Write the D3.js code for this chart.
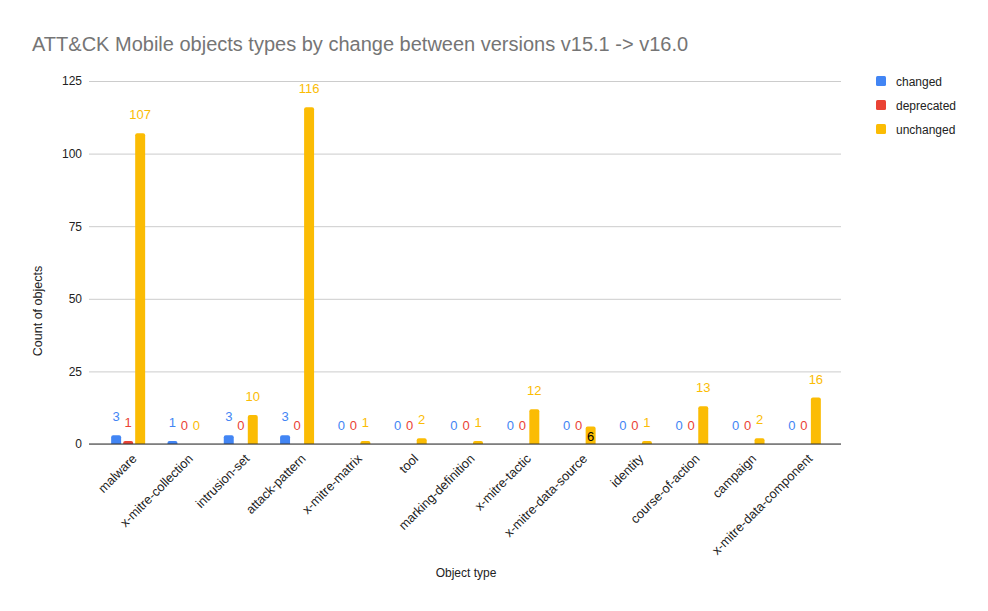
<!DOCTYPE html>
<html><head><meta charset="utf-8">
<script src="https://cdn.jsdelivr.net/npm/d3@7"></script>
<style>body{margin:0;background:#fff;}svg{display:block;font-family:"Liberation Sans",Arial,sans-serif;}</style>
</head><body><svg id="c" width="988" height="611"></svg>
<script>
const categories = ["malware","x-mitre-collection","intrusion-set","attack-pattern","x-mitre-matrix","tool","marking-definition","x-mitre-tactic","x-mitre-data-source","identity","course-of-action","campaign","x-mitre-data-component"];
const seriesNames = ["changed","deprecated","unchanged"];
const changed =    [3,1,3,3,0,0,0,0,0,0,0,0,0];
const deprecated = [1,0,0,0,0,0,0,0,0,0,0,0,0];
const unchanged =  [107,0,10,116,1,2,1,12,6,1,13,2,16];
const colors = ["#4285F4","#EA4335","#FBBC04"];
const yTicks = [0,25,50,75,100,125];
const insideLabels = ["x-mitre-data-source|unchanged"];
const title = "ATT&CK Mobile objects types by change between versions v15.1 -> v16.0";

const seriesVals = [changed, deprecated, unchanged];
const svg = d3.select("#c");
const plotL = 89, plotR = 841, plotT = 81, plotB = 444;

const x = d3.scaleBand().domain(categories).range([100, 832]);
const xs = d3.scaleBand().domain(seriesNames).range([0, 34]).paddingInner(0.17);
const y = d3.scaleLinear().domain([0,125]).range([plotB, plotT]);
const color = d3.scaleOrdinal().domain(seriesNames).range(colors);

// title
svg.append("text").attr("x", 32).attr("y", 51).attr("fill", "#757575")
  .style("font-size", "20px").text(title);

// gridlines
const yAxis = d3.axisLeft(y).tickValues(yTicks).tickSize(-(plotR-plotL)).tickPadding(7);
const ga = svg.append("g").attr("transform", `translate(${plotL},0)`).call(yAxis);
ga.select(".domain").remove();
ga.selectAll(".tick line").attr("stroke", "#cccccc");
ga.selectAll(".tick text").attr("fill", "#222").style("font-size", "12px").attr("dx", "0");

// bars
const data = [];
categories.forEach((c, ci) => seriesNames.forEach((s, si) => data.push({c, s, v: seriesVals[si][ci]})));
const bx = d => x(d.c) + x.bandwidth()/2 - 17 + xs(d.s);
function barPath(d){
  const x0 = bx(d), w = xs.bandwidth(), y0 = y(d.v), y1 = y(0);
  const h = y1 - y0; if (h <= 0) return "";
  const r = Math.min(2, h, w/2);
  return `M${x0},${y1}V${y0+r}Q${x0},${y0} ${x0+r},${y0}H${x0+w-r}Q${x0+w},${y0} ${x0+w},${y0+r}V${y1}Z`;
}
svg.append("g").selectAll("path").data(data).join("path")
  .attr("d", barPath).attr("fill", d => color(d.s));

// x axis labels
const xAxis = d3.axisBottom(x).tickSize(0).tickPadding(0);
const gx = svg.append("g").attr("transform", `translate(0,${plotB})`).call(xAxis);
gx.select(".domain").remove();
gx.selectAll(".tick text").attr("fill", "#222").style("font-size", "12.8px")
  .attr("text-anchor", "end").attr("transform", "translate(3,9) rotate(-45)").attr("dy", "0.71em").attr("y", 0);
svg.append("line").attr("x1", plotL).attr("x2", plotR).attr("y1", plotB).attr("y2", plotB)
  .attr("stroke", "#333").attr("stroke-width", 1.2);

// data labels
svg.append("g").selectAll("text").data(data).join("text")
  .attr("x", d => bx(d) + xs.bandwidth()/2)
  .attr("y", d => insideLabels.includes(d.c+"|"+d.s) ? y(0) - 3 : y(d.v) - 14)
  .attr("text-anchor", "middle").style("font-size", "13px")
  .attr("fill", d => insideLabels.includes(d.c+"|"+d.s) ? "#000" : color(d.s))
  .text(d => d.v);

// axis titles
svg.append("text").attr("x", 466).attr("y", 577).attr("text-anchor", "middle")
  .attr("fill", "#222").style("font-size", "12px").text("Object type");
svg.append("text").attr("transform", "translate(42,311) rotate(-90)").attr("text-anchor", "middle")
  .attr("fill", "#222").style("font-size", "12.5px").text("Count of objects");

// legend
const lg = svg.append("g").selectAll("g").data(seriesNames).join("g")
  .attr("transform", (d,i) => `translate(876,${76 + i*24})`);
lg.append("rect").attr("width", 10).attr("height", 10).attr("rx", 1.5).attr("fill", d => color(d));
lg.append("text").attr("x", 20).attr("y", 9.5).attr("fill", "#222").style("font-size", "12px").text(d => d);
</script></body></html>
